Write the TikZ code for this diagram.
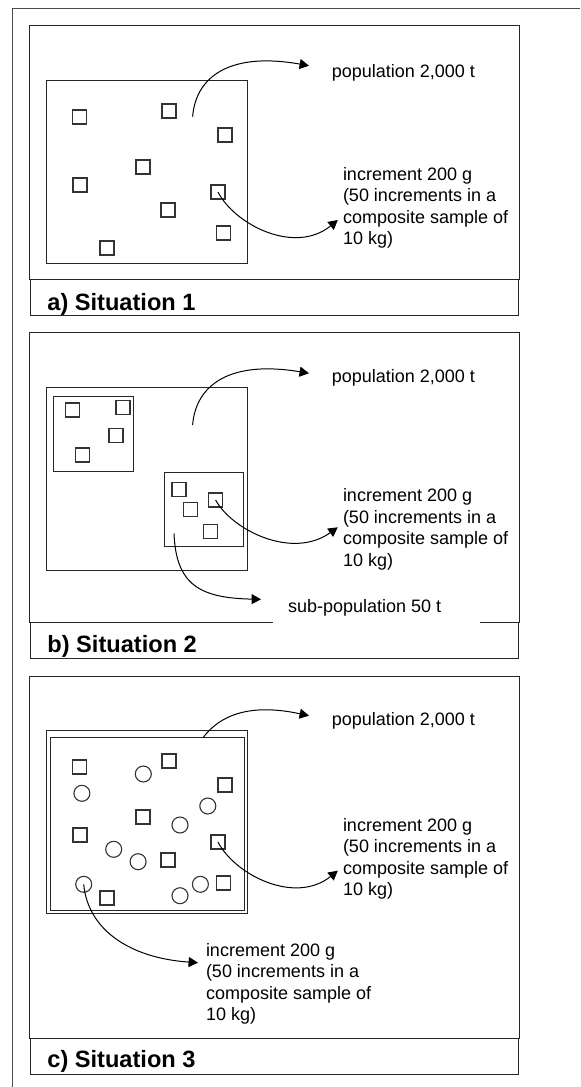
\documentclass[tikz,border=0pt]{standalone}
\usepackage{fontspec}
\setmainfont{Liberation Sans}
\usetikzlibrary{arrows.meta}

\tikzset{
  frame/.style={draw=black!85,line width=0.5pt},
  incr/.style={draw=black!80,line width=0.55pt,minimum size=7pt,inner sep=0pt},
  lot/.style={circle,draw=black!80,line width=0.55pt,minimum size=8pt,inner sep=0pt},
  lab/.style={anchor=base west,inner sep=0pt,align=left,font=\fontsize{9}{10.75}\selectfont},
  capt/.style={anchor=base west,inner sep=0pt,font=\fontsize{11.8}{14}\selectfont\bfseries},
  link/.style={draw=black,line width=0.5pt,-{Triangle[length=4.7pt,width=5pt]}},
}

\begin{document}
\begin{tikzpicture}[x=0.5pt,y=-0.5pt]
\useasboundingbox (0,0) rectangle (580,1087);
% outer frame
\draw[black!70,line width=0.5pt] (580,8)--(12,8)--(12,1087);
% panel frames and caption boxes
\foreach \t/\b/\c in {25/279.3/315.3,332.7/622.7/658.3,676/1038.3/1074}{
  \draw[frame] (29.6,\t) rectangle (519,\b);
  \draw[frame] (30.7,\b) rectangle (518,\c);
}

% a) one population, increments all over it
% (multi-line labels sit on the baseline of their last line)
\draw[frame] (46.3,80) rectangle (247.4,263);
\foreach \x/\y [count=\i] in {79.5/117,169/111,225/135,143/167,80/185,218/192,168/210,223.5/233,107/248}
  \node[incr] (a-s\i) at (\x,\y) {};
\coordinate (a-pt) at (192.6,116.7);
\node[lab] (a-pop) at (331.5,77.5) {population 2,000 t};
\node[lab] (a-inc) at (342.6,244.5) {increment 200 g\\(50 increments in a\\composite sample of\\10 kg)};
\node[capt] (a-cap) at (47,310) {a) Situation 1};
\draw[link] (a-pt) .. controls (196,75) and (232,52) .. ([shift={(-22.5,-11.8)}]a-pop.base west);
\draw[link] (a-s6.center) .. controls (235,225) and (295,255) .. ([shift={(-4.8,-24.5)}]a-inc.base west);

% b) two sub-populations
\draw[frame] (46.3,387.7) rectangle (247.4,570);
\draw[frame] (53,396.7) rectangle (133,471);
\draw[frame] (164,472.3) rectangle (243.7,546.7);
\foreach \x/\y [count=\i] in {72.2/410,123/407.3,116/435.3,82.2/455,179/489.3,190.7/509.3,215.6/500,210.4/531.7}
  \node[incr] (b-s\i) at (\x,\y) {};
\coordinate (b-pt) at (192.6,425);
\coordinate (b-sub) at (174,533.3);
\fill[white] (273,588) rectangle (480,624.5);
\node[lab] (b-pop) at (331.5,382) {population 2,000 t};
\node[lab] (b-inc) at (342.6,566) {increment 200 g\\(50 increments in a\\composite sample of\\10 kg)};
\node[lab] (b-subpop) at (287.7,612.3) {sub-population 50 t};
\node[capt] (b-cap) at (47,652) {b) Situation 2};
\draw[link] (b-pt) .. controls (196,383.3) and (232,360.3) .. ([shift={(-22.5,-8.7)}]b-pop.base west);
\draw[link] (b-s7.center) .. controls (232,530) and (292,560) .. ([shift={(-4.8,-38.7)}]b-inc.base west);
\draw[link] (b-sub) .. controls (176,585) and (200,598) .. ([shift={(-26.7,-13)}]b-subpop.base west);

% c) two kinds of increments in one lot
\draw[frame] (46.3,730.5) rectangle (247.4,913.5);
\draw[frame] (50,737.7) rectangle (244.8,910);
\foreach \x/\y [count=\i] in {79.5/117,169/111,225/135,143/167,80/185,218/192,168/210,223.5/233,107/248}
  \node[incr] (c-s\i) at (\x,\y+650) {};
\foreach \x/\y [count=\i] in {143.3/774,81.9/793.3,207.8/806,180/825,113.7/849.3,138.1/861.7,83.7/884.3,200.4/884.3,180/895.7}
  \node[lot] (c-o\i) at (\x,\y) {};
\coordinate (c-pt) at (203,737.7);
\node[lab] (c-pop) at (331.5,725) {population 2,000 t};
\node[lab] (c-inc) at (342.6,895.5) {increment 200 g\\(50 increments in a\\composite sample of\\10 kg)};
\node[lab] (c-inc2) at (205.6,1020.5) {increment 200 g\\(50 increments in a\\composite sample of\\10 kg)};
\node[capt] (c-cap) at (47,1067.5) {c) Situation 3};
\draw[link] (c-pt) .. controls (220,715) and (250,703) .. ([shift={(-22.5,-9.3)}]c-pop.base west);
\draw[link] (c-s6.center) .. controls (235,875) and (295,905) .. ([shift={(-4.8,-24.8)}]c-inc.base west);
\draw[link] (c-o7.center) .. controls (88,930) and (130,958) .. ([shift={(-7.6,-57.8)}]c-inc2.base west);
\end{tikzpicture}
\end{document}
